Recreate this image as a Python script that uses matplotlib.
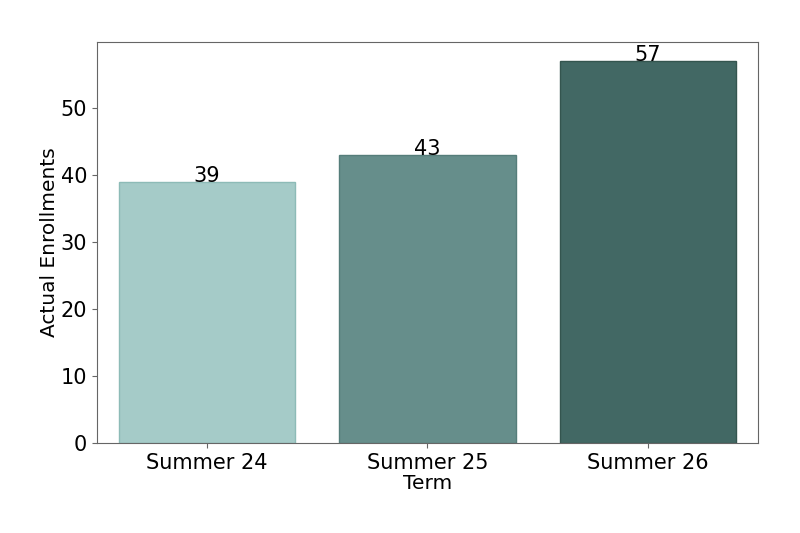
import matplotlib
matplotlib.use("Agg")
import matplotlib.pyplot as plt

terms = ["Summer 24", "Summer 25", "Summer 26"]
enrollments = [39, 43, 57]
bar_colors = ["#A5CBC8", "#668E8B", "#426864"]
edge_colors = ["#8DBBB7", "#557D7A", "#34554F"]

fig = plt.figure(figsize=(8, 5.33), dpi=100)
ax = fig.add_axes([0.121, 0.169, 0.8265, 0.752])

x = range(len(terms))
bars = ax.bar(x, enrollments, width=0.8, color=bar_colors,
              edgecolor=edge_colors, linewidth=1)
for b, v in zip(bars, enrollments):
    ax.text(b.get_x() + b.get_width() / 2, v, str(v),
            ha="center", va="baseline", fontsize=15, color="black")

ax.set_xlim(-0.5, 2.5)
ax.set_ylim(0, max(enrollments) * 1.05)
ax.set_xticks(list(x))
ax.set_xticklabels(terms)
ax.tick_params(axis="both", labelsize=15, color="#666666")
ax.set_xlabel("Term", fontsize=14.5, labelpad=1)
ax.set_ylabel("Actual Enrollments", fontsize=14.5, labelpad=1)
for s in ax.spines.values():
    s.set_color("#666666")

fig.savefig("out.png", dpi=100)
